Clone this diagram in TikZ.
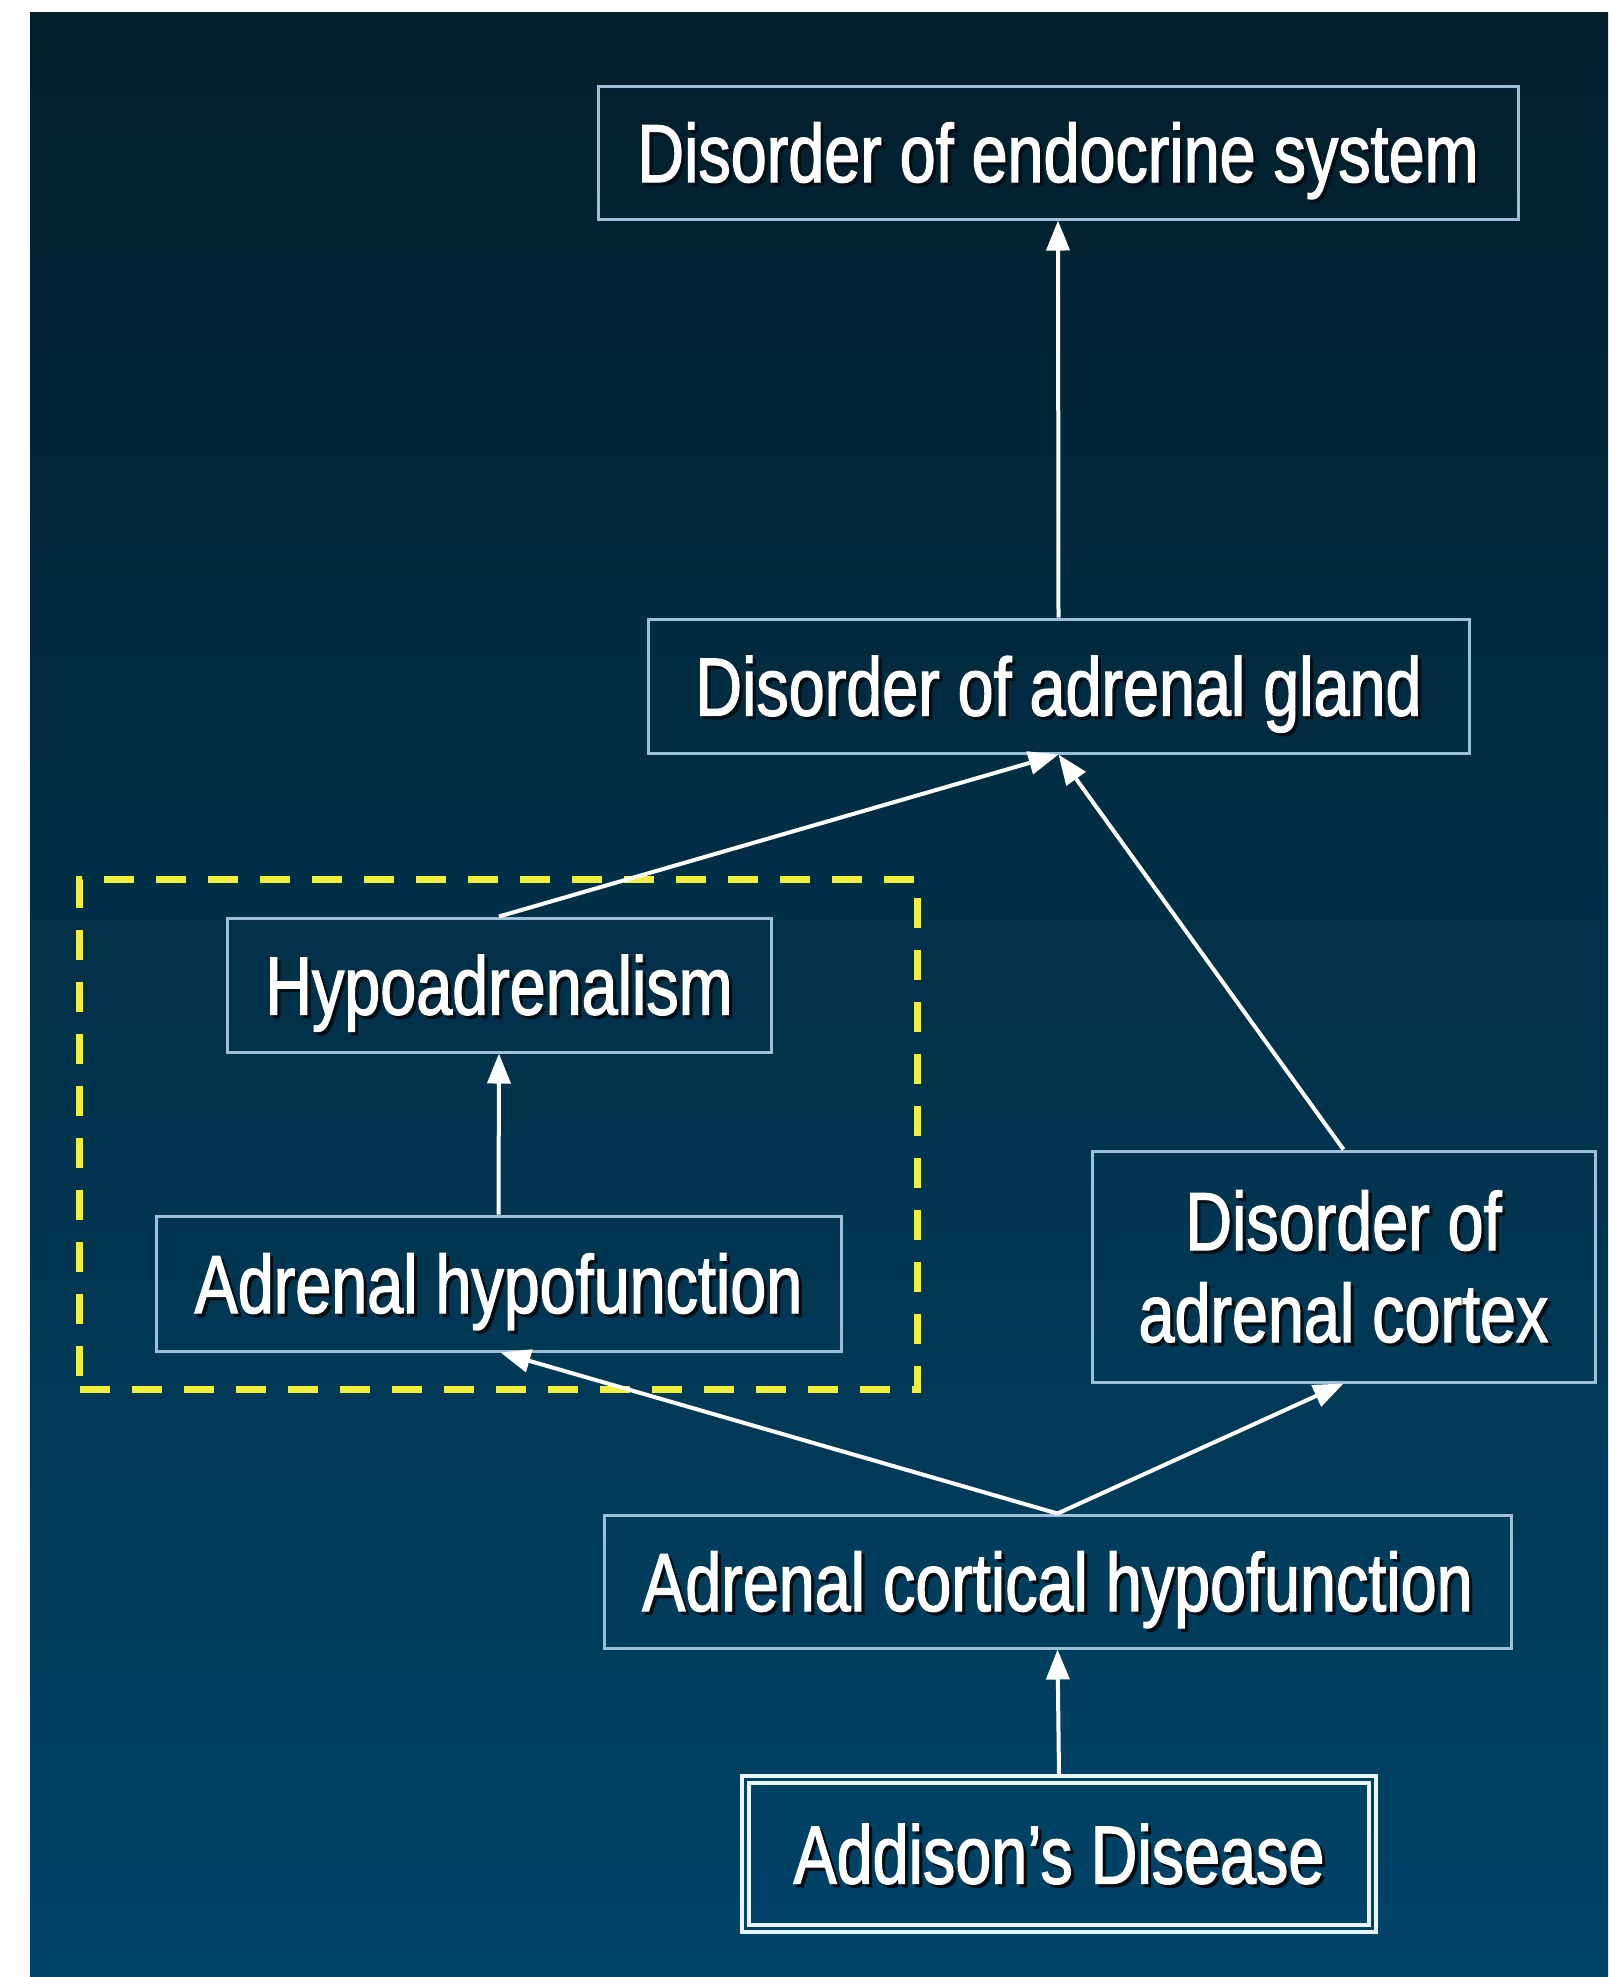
\documentclass[tikz,border=0pt]{standalone}
\usepackage{fontspec}
\setmainfont[FakeStretch=0.785,FakeBold=1.5]{Liberation Sans}
\usetikzlibrary{arrows.meta,fit}
\definecolor{bgtop}{RGB}{2,30,43}
\definecolor{bgmid}{RGB}{0,50,77}
\definecolor{bgbot}{RGB}{0,68,104}
\definecolor{boxline}{RGB}{155,192,215}
\definecolor{frameline}{RGB}{232,246,252}
\definecolor{hiyellow}{RGB}{240,240,60}
\definecolor{txtshadow}{RGB}{4,14,20}
% white text with a small dark drop shadow
\newcommand\shtxt[1]{\leavevmode\rlap{\kern1.6pt\raisebox{-1.6pt}{\textcolor{txtshadow}{#1}}}#1}
\begin{document}
\begin{tikzpicture}[x=0.5pt,y=-0.5pt,
  lbl/.style={draw=boxline, line width=1.5pt, text=white,
    font=\fontsize{41.2}{46}\selectfont, align=center, inner sep=0pt,
    text height=29.5pt, text depth=0pt},
  link/.style={draw=white, line width=2pt, -{Triangle[length=15pt,width=11.5pt]}}]

% page and background panel
\useasboundingbox (0,0) rectangle (1608,1977);
\fill[white] (0,0) rectangle (1608,1977);
\shade[top color=bgtop, middle color=bgmid, bottom color=bgbot] (30,12) rectangle (1608,1977);

% concept boxes
\node[lbl, minimum width=460pt, minimum height=66.5pt] (endo) at (1058,152.5) {\shtxt{Disorder of endocrine system}};
\node[lbl, minimum width=410.5pt, minimum height=67pt] (gland) at (1058.5,686) {\shtxt{Disorder of adrenal gland}};
\node[lbl, minimum width=272pt, minimum height=67pt] (hypo) at (499,985) {\shtxt{Hypoadrenalism}};
\node[lbl, minimum width=342.5pt, minimum height=67.5pt] (adrhypo) at (498.5,1283.5) {\shtxt{Adrenal hypofunction}};
\node[lbl, minimum width=251.5pt, minimum height=115.5pt, text height=75.5pt] (cortex) at (1343.5,1266.5) {\shtxt{Disorder of}\\\shtxt{adrenal cortex}};
\node[lbl, minimum width=453.5pt, minimum height=66.5pt] (corthypo) at (1057.5,1581.5) {\shtxt{Adrenal cortical hypofunction}};
\node[lbl, draw=frameline, line width=2pt, minimum width=317pt, minimum height=78pt] (addison) at (1059,1854) {\shtxt{Addison’s Disease}};
\draw[frameline, line width=2pt] ([shift={(4.5pt,-4.5pt)}]addison.north west) rectangle ([shift={(-4.5pt,4.5pt)}]addison.south east);

% dashed highlight around the hypofunction group
\node[fit=(hypo)(adrhypo), inner xsep=37.5pt, inner ysep=18.5pt, draw=hiyellow,
  line width=3.5pt, dash pattern=on 15pt off 11pt] (grp) {};

% connectors
\draw[link] (gland.north) -- (endo.south);
\draw[link] (hypo.north) -- (gland.south);
\draw[link] (cortex.north) -- (gland.south);
\draw[link] (adrhypo.north) -- (hypo.south);
\draw[link] (corthypo.north) -- ([xshift=1pt]adrhypo.south);
\draw[link] (corthypo.north) -- (cortex.south);
\draw[link] (addison.north) -- (corthypo.south);
\end{tikzpicture}
\end{document}
